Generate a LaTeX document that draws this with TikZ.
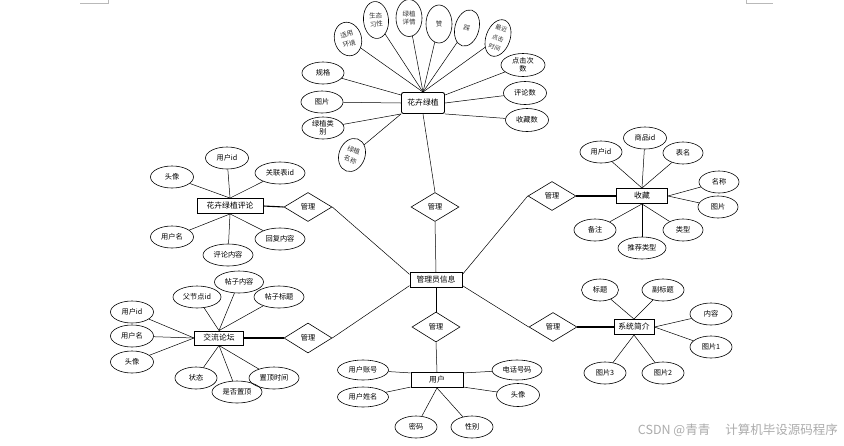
\documentclass[tikz,border=0pt]{standalone}
\usepackage{fontspec}
\setmainfont{Noto Sans CJK SC}
\usetikzlibrary{shapes.geometric}
\begin{document}
\begin{tikzpicture}[x=1pt,y=-1pt,
  attr/.style={ellipse, draw, line width=0.6pt, minimum width=42pt, minimum height=22pt, inner sep=0pt, font=\fontsize{7.2}{8}\selectfont},
  vattr/.style={ellipse, draw, line width=0.6pt, minimum width=26pt, minimum height=36pt, inner sep=0pt, align=center, text=black!80, font=\fontsize{6.5}{8.6}\selectfont},
  ent/.style={rectangle, draw, line width=0.9pt, minimum height=15pt, inner sep=1pt, font=\fontsize{7.8}{8}\selectfont},
  rel/.style={diamond, draw, line width=0.6pt, minimum width=48pt, minimum height=29pt, inner sep=0pt, font=\fontsize{7.2}{8}\selectfont},
  ln/.style={line width=0.5pt},
  tk/.style={line width=1.1pt}]
\useasboundingbox (0,0) rectangle (844,445);
\fill[white] (0,0) rectangle (844,445);
% corner marks
\draw[gray!55, line width=0.5pt] (80,3) -- (108,3) -- (108,0);
\draw[gray!55, line width=0.5pt] (746,0) -- (746,3) -- (773,3);

% ===== central
\node[ent, minimum width=52pt] (admin) at (436,280) {管理员信息};
\node[rel] (r1) at (435,207) {管理};
\node[rel, minimum height=30pt] (r2) at (436,327) {管理};
\node[rel] (r3) at (308,207) {管理};
\node[rel, minimum height=30pt] (r4) at (308,338) {管理};
\node[rel] (r5) at (552,196) {管理};
\node[rel] (r6) at (553,327) {管理};

% ===== 花卉绿植
\node[ent, rounded corners=2pt, minimum width=43pt, minimum height=21pt] (hh) at (423,103) {花卉绿植};
\node[vattr, minimum width=27pt, minimum height=34pt, rotate=15, font=\fontsize{6.5}{9.8}\selectfont] (a1) at (348,39) {适用\\环境};
\node[vattr, minimum width=25pt, minimum height=37pt, rotate=5] (a2) at (376,20) {生态\\习性};
\node[vattr, minimum height=37pt] (a3) at (409,18) {绿植\\详情};
\node[vattr, minimum height=38pt] (a4) at (439,24) {赞};
\node[vattr, minimum width=24pt, minimum height=37pt, rotate=-15] (a5) at (467,28) {踩};
\node[vattr, minimum width=24pt, minimum height=38pt, rotate=-20, font=\fontsize{6}{9.8}\selectfont] (a6) at (498,38) {最近\\点击\\时间};
\node[attr, minimum width=44pt, minimum height=23pt, align=center, font=\fontsize{7.2}{8.4}\selectfont] (a7) at (523,65) {点击次\\数};
\node[attr, minimum width=43pt, minimum height=23pt] (a8) at (525,93) {评论数};
\node[attr, minimum width=43pt, minimum height=23pt] (a9) at (527,120) {收藏数};
\node[attr] (a10) at (323,73) {规格};
\node[attr] (a11) at (322,102) {图片};
\node[attr, align=center, font=\fontsize{7.2}{8.4}\selectfont] (a12) at (323,128) {绿植类\\别};
\node[vattr, minimum width=26pt, minimum height=34pt, rotate=-20, font=\fontsize{6.5}{10.2}\selectfont] (a13) at (352,155) {绿植\\名称};
\foreach \n in {a1,a2,a3,a4,a5,a6} \draw[ln] (\n) -- (hh.north);
\draw[ln] (a7) -- (hh.20);
\draw[ln] (a8) -- (hh.east);
\draw[ln] (a9) -- (hh.south east);
\draw[ln] (a10) -- (hh.160);
\draw[ln] (a11) -- (hh.west);
\draw[ln] (a12) -- (hh.south west);
\draw[ln] (a13) -- (hh.south west);
\draw[ln] (hh.south) -- (r1.north);
\draw[ln] (r1.south) -- (admin.north);
\draw[ln] (admin.south) -- (r2.north);
\draw[ln] (r3.east) -- (admin.168);
\draw[ln] (r4.east) -- (admin.192);
\draw[ln] (r5.west) -- (admin.12);
\draw[ln] (r6.west) -- (admin.-12);

% ===== 用户
\node[ent, minimum width=52pt] (user) at (437,380) {用户};
\node[attr, minimum width=51pt, minimum height=20pt] (u1) at (363,370) {用户账号};
\node[attr, minimum width=51pt, minimum height=20pt] (u2) at (363,397) {用户姓名};
\node[attr] (u3) at (416,427) {密码};
\node[attr] (u4) at (472,427) {性别};
\node[attr, minimum width=50pt, minimum height=20pt] (u5) at (517,370) {电话号码};
\node[attr, minimum width=43pt, minimum height=23pt] (u6) at (518,395) {头像};
\draw[ln] (r2.south) -- (user.north);
\draw[ln] (u1) -- (user.165);
\draw[ln] (u2) -- (user.195);
\draw[ln] (u3) -- (user.south);
\draw[ln] (u4) -- (user.south);
\draw[ln] (u5) -- (user.15);
\draw[ln] (u6) -- (user.-15);

% ===== 花卉绿植评论
\node[ent, minimum width=66pt] (cm) at (230,206) {花卉绿植评论};
\node[attr, minimum width=43pt] (c1) at (172,177) {头像};
\node[attr, minimum width=43pt] (c2) at (227,158) {用户id};
\node[attr, minimum width=50pt] (c3) at (280,173) {关联表id};
\node[attr, minimum width=43pt] (c4) at (172,237) {用户名};
\node[attr, minimum width=50pt] (c5) at (228,255) {评论内容};
\node[attr, minimum width=50pt] (c6) at (280,239) {回复内容};
\foreach \n in {c1,c2,c3} \draw[ln] (\n) -- (cm.north);
\foreach \n in {c4,c5,c6} \draw[ln] (\n) -- (cm.south);
\draw[tk] (cm.east) -- (r3.west);

% ===== 交流论坛
\node[ent, minimum width=49pt, minimum height=14pt] (fm) at (219,338) {交流论坛};
\node[attr, minimum width=43pt] (f1) at (132,312) {用户id};
\node[attr, minimum width=43pt] (f2) at (132,336) {用户名};
\node[attr, minimum width=43pt] (f3) at (132,362) {头像};
\node[attr, minimum width=48pt] (f4) at (197,297) {父节点id};
\node[attr, minimum width=49pt] (f5) at (239,282) {帖子内容};
\node[attr, minimum width=50pt] (f6) at (279,297) {帖子标题};
\node[attr] (f7) at (196,378) {状态};
\node[attr, minimum width=50pt] (f8) at (237,392) {是否置顶};
\node[attr, minimum width=50pt] (f9) at (274,378) {置顶时间};
\foreach \n in {f1,f2,f3} \draw[ln] (\n) -- (fm.west);
\foreach \n in {f4,f5,f6} \draw[ln] (\n) -- (fm.north);
\foreach \n in {f7,f8,f9} \draw[ln] (\n) -- (fm.south);
\draw[tk] (fm.east) -- (r4.west);

% ===== 收藏
\node[ent, minimum width=51pt] (fv) at (642,196) {收藏};
\node[attr] (v1) at (601,152) {用户id};
\node[attr, minimum width=43pt] (v2) at (645,138) {商品id};
\node[attr, minimum width=40pt] (v3) at (683,153) {表名};
\node[attr, minimum width=40pt] (v4) at (719,182) {名称};
\node[attr, minimum width=40pt] (v5) at (718,207) {图片};
\node[attr] (v6) at (595,230) {备注};
\node[attr, minimum width=48pt] (v7) at (642,248) {推荐类型};
\node[attr, minimum width=40pt] (v8) at (683,230) {类型};
\foreach \n in {v1,v2,v3} \draw[ln] (\n) -- (fv.north);
\foreach \n in {v4,v5} \draw[ln] (\n) -- (fv.east);
\foreach \n in {v6,v7,v8} \draw[ln] (\n) -- (fv.south);
\draw[tk] (r5.east) -- (fv.west);

% ===== 系统简介
\node[ent, minimum width=40pt] (sy) at (634,327) {系统简介};
\node[attr, minimum width=37pt] (s1) at (600,290) {标题};
\node[attr] (s2) at (663,290) {副标题};
\node[attr] (s3) at (711,314) {内容};
\node[attr] (s4) at (711,347) {图片1};
\node[attr] (s5) at (605,373) {图片3};
\node[attr] (s6) at (663,373) {图片2};
\foreach \n in {s1,s2} \draw[ln] (\n) -- (sy.north);
\foreach \n in {s3,s4} \draw[ln] (\n) -- (sy.east);
\foreach \n in {s5,s6} \draw[ln] (\n) -- (sy.south);
\draw[tk] (r6.east) -- (sy.west);

% watermark
\node[anchor=east, text=gray!65, font=\fontsize{12.5}{13}\selectfont, inner sep=0pt] (wm) at (838,430) {CSDN @青青\hspace{1.2em}计算机毕设源码程序};
\end{tikzpicture}
\end{document}
